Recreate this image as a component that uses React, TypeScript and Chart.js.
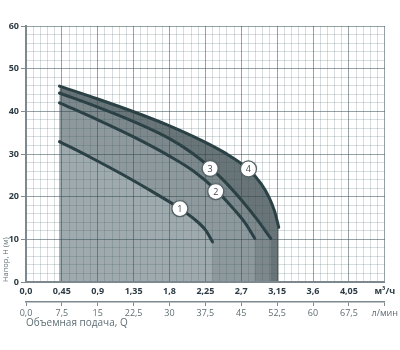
import React, { useEffect, useRef } from "react";
import { Chart, registerables } from "chart.js";

Chart.register(...registerables);

// Flow, m³/h  and head, m for each pump curve
const q1 = [0.42, 0.8, 1.2, 1.6, 1.9, 2.1, 2.25, 2.34];
const h1 = [32.9, 29.3, 25.3, 21.0, 17.6, 14.9, 12.2, 9.4];

const q2 = [0.42, 0.9, 1.35, 1.8, 2.1, 2.38, 2.6, 2.75, 2.87];
const h2 = [42.0, 38.0, 34.0, 29.5, 26.0, 21.6, 17.2, 13.8, 10.2];

const q3 = [0.42, 0.9, 1.35, 1.8, 2.1, 2.31, 2.5, 2.72, 2.9, 3.07];
const h3 = [44.3, 41.0, 37.6, 33.6, 30.0, 26.8, 23.4, 18.8, 14.6, 10.2];

const q4 = [0.42, 0.9, 1.35, 1.8, 2.2, 2.5, 2.79, 2.95, 3.05, 3.12, 3.17];
const h4 = [45.9, 42.9, 39.9, 36.6, 33.2, 30.2, 26.4, 23.0, 19.8, 16.5, 12.8];

// Curve number markers
const markerQ = [1.93, 2.38, 2.31, 2.79];
const markerH = [17.2, 21.2, 26.6, 26.5];
const markerText = ["1", "2", "3", "4"];

// Axis tick labels
const xTickLabels = ["0,0", "0,45", "0,9", "1,35", "1,8", "2,25", "2,7", "3,15", "3,6", "4,05", "м³/ч"];
const x2TickLabels = ["0,0", "7,5", "15", "22,5", "30", "37,5", "45", "52,5", "60", "67,5", "л/мин"];

const FONT = "'Open Sans', 'DejaVu Sans', sans-serif";
const LINE = "rgb(42,64,68)";
const FILLS = ["rgb(158,170,174)", "rgb(141,153,157)", "rgb(124,136,140)", "rgb(104,116,119)"];
const MINOR = "rgba(55,85,92,0.2)";
const MAJOR = "rgba(45,70,76,0.5)";
const AXIS = "rgb(125,137,142)";

const pts = (q: number[], h: number[]) => q.map((x, i) => ({ x, y: h[i] }));

const markerPlugin = {
  id: "markers",
  afterDraw(chart: any) {
    const { ctx, scales } = chart;
    ctx.save();
    markerQ.forEach((q, i) => {
      const px = scales.x.getPixelForValue(q);
      const py = scales.y.getPixelForValue(markerH[i]);
      ctx.beginPath();
      ctx.arc(px, py, 8, 0, Math.PI * 2);
      ctx.fillStyle = "#ffffff";
      ctx.shadowColor = "rgba(0,0,0,0.35)";
      ctx.shadowBlur = 2;
      ctx.fill();
      ctx.shadowColor = "rgba(0,0,0,0)";
      ctx.lineWidth = 1.3;
      ctx.strokeStyle = "rgb(85,100,105)";
      ctx.stroke();
      ctx.fillStyle = "rgb(60,75,80)";
      ctx.font = `9px ${FONT}`;
      ctx.textAlign = "center";
      ctx.textBaseline = "middle";
      ctx.fillText(markerText[i], px, py + 0.5);
    });
    ctx.restore();
  },
};

export default function App() {
  const ref = useRef<HTMLCanvasElement>(null);

  useEffect(() => {
    if (!ref.current) return;
    const series = [pts(q1, h1), pts(q2, h2), pts(q3, h3), pts(q4, h4)];
    const chart = new Chart(ref.current, {
      type: "line",
      data: {
        datasets: series.map((d, i) => ({
          data: d,
          borderColor: LINE,
          borderWidth: 3,
          backgroundColor: FILLS[i],
          fill: "origin",
          pointRadius: 0,
          cubicInterpolationMode: "monotone" as const,
          borderCapStyle: "round" as const,
        })),
      },
      options: {
        responsive: false,
        animation: false,
        devicePixelRatio: 1,
        layout: { padding: { left: 0, right: 14, top: 26, bottom: 20 } },
        plugins: { legend: { display: false }, tooltip: { enabled: false } },
        scales: {
          x: {
            type: "linear",
            position: "bottom",
            min: 0,
            max: 4.5,
            afterFit: (s: any) => {
              s.height = 20;
            },
            ticks: {
              stepSize: 0.09,
              autoSkip: false,
              maxRotation: 0,
              padding: 4,
              color: "rgb(45,60,68)",
              font: { family: FONT, size: 9, weight: "bold" },
              callback: (_v: any, i: number) => (i % 5 === 0 ? xTickLabels[i / 5] : ""),
            },
            grid: {
              z: 1,
              drawTicks: false,
              color: (c: any) => (c.index % 5 === 0 ? MAJOR : MINOR),
            },
            border: { display: true, color: AXIS, width: 2, z: 2 },
          },
          x2: {
            type: "linear",
            position: "bottom",
            min: 0,
            max: 75,
            afterFit: (s: any) => {
              s.height = 28;
            },
            ticks: {
              stepSize: 7.5,
              autoSkip: false,
              maxRotation: 0,
              padding: 2,
              color: "rgb(95,110,116)",
              font: { family: FONT, size: 9 },
              callback: (_v: any, i: number) => x2TickLabels[i],
            },
            grid: { drawOnChartArea: false, tickLength: 4, color: AXIS },
            border: { display: true, color: AXIS, width: 1.5 },
            title: {
              display: true,
              text: "Объемная подача, Q",
              align: "start",
              color: "rgb(95,110,116)",
              font: { family: FONT, size: 10 },
              padding: { top: 0, bottom: 1 },
            },
          },
          y: {
            type: "linear",
            min: 0,
            max: 60,
            afterFit: (s: any) => {
              s.width = 26;
            },
            ticks: {
              stepSize: 2,
              autoSkip: false,
              padding: 2,
              color: "rgb(45,60,68)",
              font: { family: FONT, size: 9, weight: "bold" },
              callback: (v: any) => (Math.round(v) % 10 === 0 ? String(Math.round(v)) : ""),
            },
            grid: {
              z: 1,
              tickLength: 5,
              color: (c: any) => (c.tick && Math.round(c.tick.value) % 10 === 0 ? MAJOR : MINOR),
              tickColor: (c: any) => (c.tick && Math.round(c.tick.value) % 10 === 0 ? AXIS : "rgba(0,0,0,0)"),
            },
            border: { display: true, color: AXIS, width: 2, z: 2 },
            title: {
              display: true,
              text: "Напор, H (м)",
              align: "start",
              color: "rgb(95,110,116)",
              font: { family: FONT, size: 7.5 },
              padding: { top: 1, bottom: 0 },
            },
          },
        },
      },
      plugins: [markerPlugin],
    } as any);
    return () => chart.destroy();
  }, []);

  return (
    <div style={{ position: "fixed", left: 0, top: 0, width: 400, height: 350, background: "#fff" }}>
      <canvas ref={ref} width={400} height={350} style={{ display: "block" }} />
    </div>
  );
}
